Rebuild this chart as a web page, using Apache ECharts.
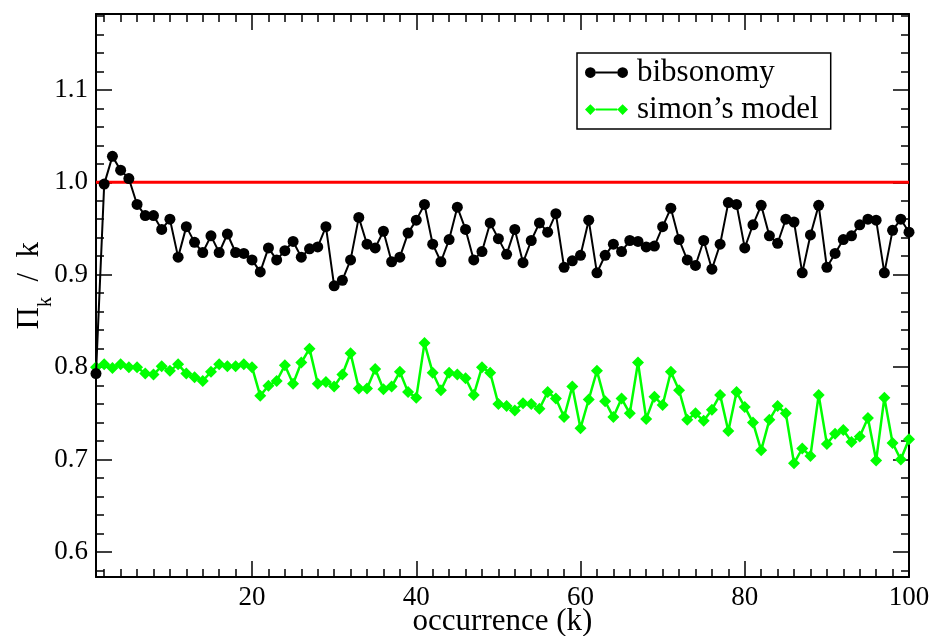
<!DOCTYPE html>
<html>
<head>
<meta charset="utf-8">
<script src="https://cdn.jsdelivr.net/npm/echarts@6/dist/echarts.min.js"></script>
<style>html,body{margin:0;padding:0;background:#fff}#c{width:933px;height:636px}</style>
</head>
<body>
<div id="c"></div>
<script>
// ---- data ----
const kStart = 1, kEnd = 100;
const bibsonomy = [0.793,0.998,1.028,1.013,1.004,0.976,0.964,0.964,0.949,0.960,
0.919,0.952,0.935,0.924,0.942,0.924,0.944,0.924,0.923,0.916,
0.903,0.929,0.916,0.926,0.936,0.919,0.928,0.930,0.952,0.888,
0.894,0.916,0.962,0.933,0.929,0.947,0.914,0.919,0.945,0.959,
0.976,0.933,0.914,0.938,0.973,0.949,0.916,0.925,0.956,0.939,
0.922,0.949,0.913,0.937,0.956,0.946,0.966,0.908,0.915,0.921,
0.959,0.902,0.921,0.933,0.925,0.937,0.936,0.930,0.931,0.952,
0.972,0.938,0.916,0.910,0.937,0.906,0.933,0.978,0.976,0.929,
0.954,0.975,0.942,0.934,0.960,0.957,0.902,0.943,0.975,0.908,
0.923,0.938,0.942,0.954,0.960,0.959,0.902,0.948,0.960,0.946];
const simonModel = [0.800,0.803,0.799,0.803,0.800,0.800,0.793,0.792,0.801,0.796,
0.803,0.793,0.789,0.785,0.795,0.803,0.801,0.801,0.803,0.800,
0.769,0.780,0.785,0.802,0.782,0.805,0.820,0.782,0.784,0.779,
0.792,0.815,0.777,0.777,0.798,0.776,0.779,0.795,0.773,0.767,
0.826,0.794,0.775,0.794,0.792,0.788,0.770,0.800,0.794,0.760,
0.758,0.753,0.761,0.760,0.755,0.773,0.766,0.746,0.779,0.734,
0.765,0.796,0.763,0.746,0.766,0.750,0.805,0.744,0.768,0.759,
0.795,0.775,0.743,0.750,0.742,0.754,0.770,0.731,0.773,0.757,
0.740,0.710,0.743,0.758,0.750,0.696,0.712,0.704,0.770,0.717,
0.728,0.732,0.719,0.725,0.745,0.699,0.767,0.718,0.700,0.722];
const refLineX = [1, 100];
const refLineY = [1.0, 1.0];
const xMajorTicks = [20, 40, 60, 80, 100];
const yMajorTicks = [0.6, 0.7, 0.8, 0.9, 1.0, 1.1];
const xMinorStep = 2, yMinorStep = 0.02;
const xMin = 1, xMax = 100, yMin = 0.573, yMax = 1.182;

// ---- build ----
const ks = [];
for (let k = kStart; k <= kEnd; k++) ks.push(k);
const bibData = ks.map((k, i) => [k, bibsonomy[i]]);
const simData = ks.map((k, i) => [k, simonModel[i]]);
const refData = refLineX.map((x, i) => [x, refLineY[i]]);

const xMinor = [];
for (let v = xMinorStep; v < xMax; v += xMinorStep) if (v % 20 !== 0) xMinor.push(v);
const yMinor = [];
for (let i = 29; i <= 59; i++) { const v = +(i * yMinorStep).toFixed(2); if (i % 5 !== 0) yMinor.push(v); }

const FONT = '"Liberation Serif", "DejaVu Serif", serif';
const lineStyle = { color: '#000', width: 2 };

function xAx(pos, ticks, len, showLine, label) {
  return {
    type: 'value', position: pos, min: xMin, max: xMax,
    axisLine: { show: showLine, onZero: false, lineStyle: lineStyle },
    axisTick: { show: true, inside: true, length: len, customValues: ticks, lineStyle: { color: '#000', width: 1.5 } },
    axisLabel: label ? { show: true, customValues: ticks, margin: 7, color: '#000', fontSize: 27, fontFamily: FONT } : { show: false },
    splitLine: { show: false }
  };
}
function yAx(pos, ticks, len, showLine, label) {
  return {
    type: 'value', position: pos, min: yMin, max: yMax,
    axisLine: { show: showLine, onZero: false, lineStyle: lineStyle },
    axisTick: { show: true, inside: true, length: len, customValues: ticks, lineStyle: { color: '#000', width: 1.5 } },
    axisLabel: label ? { show: true, customValues: ticks, margin: 8, color: '#000', fontSize: 27, fontFamily: FONT,
      formatter: v => v.toFixed(1) } : { show: false },
    splitLine: { show: false }
  };
}

const xAxes = [
  Object.assign(xAx('bottom', xMajorTicks, 16, true, true), {
    name: 'occurrence (k)', nameLocation: 'middle', nameGap: 29, nameMoveOverlap: false,
    nameTextStyle: { color: '#000', fontSize: 31, fontFamily: FONT }
  }),
  xAx('bottom', xMinor, 8, false, false),
  xAx('top', xMajorTicks, 16, true, false),
  xAx('top', xMinor, 8, false, false)
];
const yAxes = [
  Object.assign(yAx('left', yMajorTicks, 16, true, true), {
    name: '{p|Π}{s|k}{p|  /  k}{h| }', nameLocation: 'middle', nameGap: 40, nameRotate: 90, nameMoveOverlap: false,
    nameTextStyle: {
      color: '#000', fontFamily: FONT, padding: [0, 0, 0, 20],
      rich: {
        p: { fontSize: 31, fontFamily: FONT, color: '#000', lineHeight: 31, verticalAlign: 'top' },
        s: { fontSize: 20, fontFamily: FONT, color: '#000', lineHeight: 20, verticalAlign: 'bottom' },
        h: { fontSize: 2, fontFamily: FONT, color: '#000', lineHeight: 42, verticalAlign: 'middle' }
      }
    }
  }),
  yAx('left', yMinor, 8, false, false),
  yAx('right', yMajorTicks, 16, true, false),
  yAx('right', yMinor, 8, false, false)
];

const chart = echarts.init(document.getElementById('c'), null, { renderer: 'canvas' });
chart.setOption({
  backgroundColor: '#fff',
  animation: false,
  grid: { left: 96, right: 24, top: 14, bottom: 59, containLabel: false, outerBoundsMode: 'none' },
  xAxis: xAxes,
  yAxis: yAxes,
  legend: {
    data: [
      { name: 'bibsonomy', icon: 'path://M0,5A5,5 0 1,0 10,5A5,5 0 1,0 0,5Z M30,5A5,5 0 1,0 40,5A5,5 0 1,0 30,5Z M10,4L30,4L30,6L10,6Z' },
      { name: 'simon’s model', icon: 'path://M0,5L5,0L10,5L5,10Z M30,5L35,0L40,5L35,10Z M10,4L30,4L30,6L10,6Z' }
    ],
    orient: 'vertical', left: 577, top: 53,
    itemWidth: 43, itemHeight: 11, itemGap: 6,
    padding: [4, 12, 4, 8],
    borderColor: '#000', borderWidth: 1.5, borderRadius: 0,
    textStyle: { color: '#000', fontSize: 31, fontFamily: FONT, padding: [0, 0, 0, 4] }
  },
  series: [
    { name: 'ref', type: 'line', data: refData, xAxisIndex: 0, yAxisIndex: 0, symbol: 'none',
      lineStyle: { color: '#ff0000', width: 3 }, z: 1, silent: true },
    { name: 'bibsonomy', type: 'line', data: bibData, xAxisIndex: 0, yAxisIndex: 0,
      symbol: 'circle', symbolSize: 11, color: '#000',
      itemStyle: { color: '#000' }, lineStyle: { color: '#000', width: 2 }, z: 3 },
    { name: 'simon’s model', type: 'line', data: simData, xAxisIndex: 0, yAxisIndex: 0,
      symbol: 'diamond', symbolSize: 12, color: '#00ff00',
      itemStyle: { color: '#00ff00' }, lineStyle: { color: '#00ff00', width: 2.5 }, z: 2 }
  ]
});
</script>
</body>
</html>
